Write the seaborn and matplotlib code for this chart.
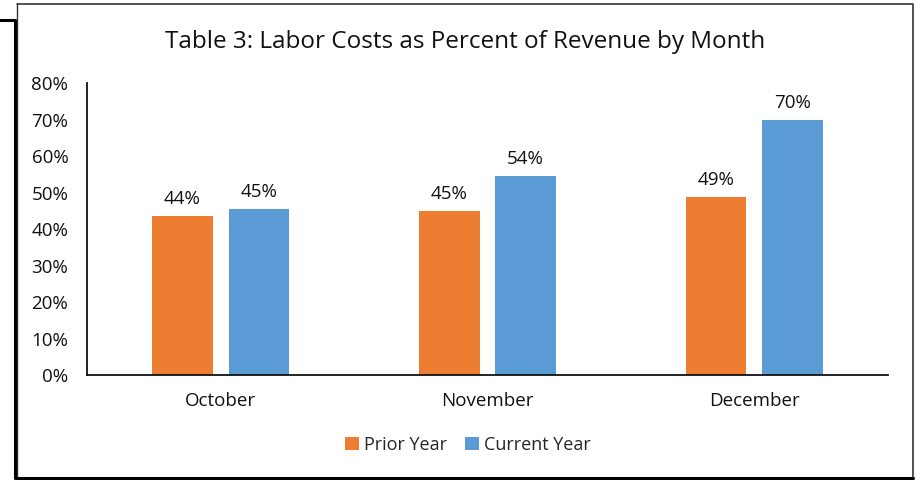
import pandas as pd
import matplotlib.pyplot as plt
import matplotlib.lines as mlines
import seaborn as sns

# chart values
months = ['October', 'November', 'December']
prior_year = [43.6, 44.8, 48.7]
current_year = [45.4, 54.5, 69.9]
series = ['Prior Year', 'Current Year']
colors = ['#ED7D31', '#5B9BD5']
y_ticks = [0, 10, 20, 30, 40, 50, 60, 70, 80]

df = pd.DataFrame({
    'Month': months * 2,
    'Series': [series[0]] * 3 + [series[1]] * 3,
    'Value': prior_year + current_year,
})

sns.set_style('white')
plt.rcParams['font.family'] = ['Open Sans', 'DejaVu Sans']

fig = plt.figure(figsize=(9.18, 4.8), dpi=100)
ax = fig.add_axes([0.0948, 0.21875, 0.8725, 0.6083])

sns.barplot(data=df, x='Month', y='Value', hue='Series', palette=colors,
            saturation=1, width=0.57, gap=0.21, linewidth=0, ax=ax, legend=True)

for cont in ax.containers:
    ax.bar_label(cont, labels=[f'{v:.0f}%' for v in cont.datavalues],
                 padding=6, fontsize=13.5, color='#111111')

ax.set_ylim(0, 80)
ax.set_xlim(-0.5, 2.5)
ax.set_yticks(y_ticks)
ax.set_yticklabels([f'{t}%' for t in y_ticks])
ax.set_xlabel('')
ax.set_ylabel('')
ax.tick_params(axis='y', direction='in', length=5, width=1.2, labelsize=13.5, pad=13.5, colors='#111111')
ax.tick_params(axis='x', length=0, labelsize=13.5, pad=12, colors='#111111')
for s in ['top', 'right']:
    ax.spines[s].set_visible(False)
for s in ['left', 'bottom']:
    ax.spines[s].set_color('#111111')
    ax.spines[s].set_linewidth(1.3)

fig.suptitle('Table 3: Labor Costs as Percent of Revenue by Month',
             x=0.507, y=0.938, fontsize=17.5, color='#111111')

handles, labels = ax.get_legend_handles_labels()
ax.legend_.remove()
fig.legend(handles, labels, loc='center', bbox_to_anchor=(0.510, 0.073), ncol=2,
           frameon=False, fontsize=13, handlelength=0.75, handleheight=0.75,
           handletextpad=0.3, columnspacing=1.0)

# outer frame lines around the chart
fig.add_artist(mlines.Line2D([17/918, 913/918, 913/918], [476/480, 476/480, 2/480],
                             transform=fig.transFigure, color='#333333', lw=1.2))
fig.add_artist(mlines.Line2D([17/918, 17/918], [2/480, 476/480],
                             transform=fig.transFigure, color='#333333', lw=1.0))
fig.add_artist(mlines.Line2D([0, 15/918, 15/918, 913/918], [460/480, 460/480, 2/480, 2/480],
                             transform=fig.transFigure, color='black', lw=2.2))

fig.savefig('out.png', dpi=100)
